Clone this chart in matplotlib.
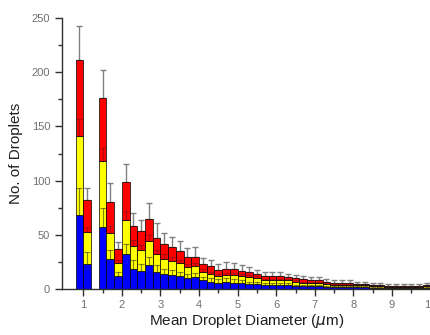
import numpy as np
import matplotlib
matplotlib.use("Agg")
from matplotlib import pyplot as plt

# bin centres (0.2 um bins)
diam = [0.9, 1.1, 1.3, 1.5, 1.7, 1.9, 2.1, 2.3, 2.5, 2.7, 2.9, 3.1, 3.3, 3.5, 3.7, 3.9,
        4.1, 4.3, 4.5, 4.7, 4.9, 5.1, 5.3, 5.5, 5.7, 5.9, 6.1, 6.3, 6.5, 6.7, 6.9, 7.1,
        7.3, 7.5, 7.7, 7.9, 8.1, 8.3, 8.5, 8.7, 8.9, 9.1, 9.3, 9.5, 9.7, 9.9]
blue = [68, 23, 0, 57, 28, 12, 32, 19, 17, 22, 16, 14, 13, 12, 10, 11,
        8, 7, 6, 7, 6, 6, 5, 5, 4, 4, 4, 4, 3, 3, 3, 3,
        2, 2, 2, 2, 2, 2, 1, 1, 1, 1, 1, 1, 1, 1]
yellow = [73, 30, 0, 61, 24, 12, 32, 21, 19, 22, 16, 14, 13, 12, 10, 10,
          8, 7, 6, 6, 7, 6, 6, 5, 4, 4, 4, 4, 4, 3, 3, 3,
          3, 2, 2, 2, 2, 2, 2, 2, 1, 1, 1, 1, 1, 2]
red = [70, 29, 0, 58, 28, 13, 35, 18, 18, 21, 15, 14, 13, 11, 10, 9,
       7, 7, 6, 6, 6, 5, 5, 4, 4, 4, 4, 3, 3, 3, 2, 2,
       2, 2, 2, 2, 1, 1, 1, 1, 1, 1, 1, 1, 1, 1]
blue_err = [25, 11, 0, 18, 8, 4, 10, 8, 6, 8, 6, 5, 5, 4, 4, 4,
            3, 3, 3, 3, 3, 2, 2, 2, 2, 2, 2, 2, 1, 1, 1, 1,
            1, 1, 1, 1, 1, 1, 1, 1, 1, 1, 1, 1, 1, 1]
yellow_err = [16, 4, 0, 12, 6, 3, 8, 5, 5, 6, 4, 4, 4, 3, 3, 3,
              3, 2, 2, 2, 2, 2, 2, 2, 1, 1, 1, 1, 1, 1, 1, 1,
              1, 1, 1, 1, 1, 1, 1, 1, 1, 1, 1, 1, 1, 1]
total_err = [32, 11, 0, 26, 18, 6, 16, 12, 10, 14, 14, 10, 9, 9, 8, 9,
             6, 6, 5, 6, 5, 5, 4, 4, 4, 4, 4, 3, 3, 3, 3, 3,
             2, 2, 2, 2, 2, 2, 2, 2, 2, 2, 2, 2, 2, 2]

x = np.array(diam)
b = np.array(blue)
y = np.array(yellow)
r = np.array(red)
keep = (b + y + r) > 0

plt.rcParams["font.family"] = ["Liberation Sans", "DejaVu Sans"]
fig = plt.figure(figsize=(4.31, 3.35), dpi=100)
ax = fig.add_axes([0.1439, 0.137, 0.858, 0.809])

w = 0.2
ax.bar(x, b, width=w, color="#0000ff", edgecolor="black", linewidth=0.5, zorder=2)
ax.bar(x, y, width=w, bottom=b, color="#ffff00", edgecolor="black", linewidth=0.5, zorder=2)
ax.bar(x, r, width=w, bottom=b + y, color="#ff0000", edgecolor="black", linewidth=0.5, zorder=2)

# error bars on each segment (only upward)
ax.errorbar(x[keep], b[keep], yerr=[np.zeros(keep.sum()), np.array(blue_err)[keep]],
            fmt="none", ecolor="#202020", alpha=0.55, elinewidth=0.8, capsize=2, capthick=0.8, zorder=3)
ax.errorbar(x[keep], (b + y)[keep], yerr=[np.zeros(keep.sum()), np.array(yellow_err)[keep]],
            fmt="none", ecolor="#202020", alpha=0.35, elinewidth=0.8, capsize=2, capthick=0.8, zorder=3)
ax.errorbar(x[keep], (b + y + r)[keep], yerr=[np.zeros(keep.sum()), np.array(total_err)[keep]],
            fmt="none", ecolor="#808080", elinewidth=1.0, capsize=2, capthick=1.0, zorder=1)

ax.set_xlim(0.45, 10.03)
ax.set_ylim(0, 250)
ax.set_xticks(range(1, 11))
ax.set_xticks(np.arange(1.5, 10, 1), minor=True)
ax.set_yticks(range(0, 251, 50))
ax.set_yticks(range(25, 250, 50), minor=True)
ax.tick_params(axis="both", which="major", direction="out", length=5, width=1,
               color="#303030", labelcolor="#707070", labelsize=8)
ax.tick_params(axis="x", which="major", pad=3)
ax.tick_params(axis="both", which="minor", direction="out", length=3, width=1, color="#303030")
for s in ["top", "right"]:
    ax.spines[s].set_visible(False)
for s in ["left", "bottom"]:
    ax.spines[s].set_color("#303030")
    ax.spines[s].set_linewidth(1)

ax.set_xlabel(r"Mean Droplet Diameter ($\mu$m)", fontsize=11, color="#202020", labelpad=1)
ax.set_ylabel("No. of Droplets", fontsize=11, color="#202020", labelpad=6)

fig.savefig("out.png", dpi=100)
